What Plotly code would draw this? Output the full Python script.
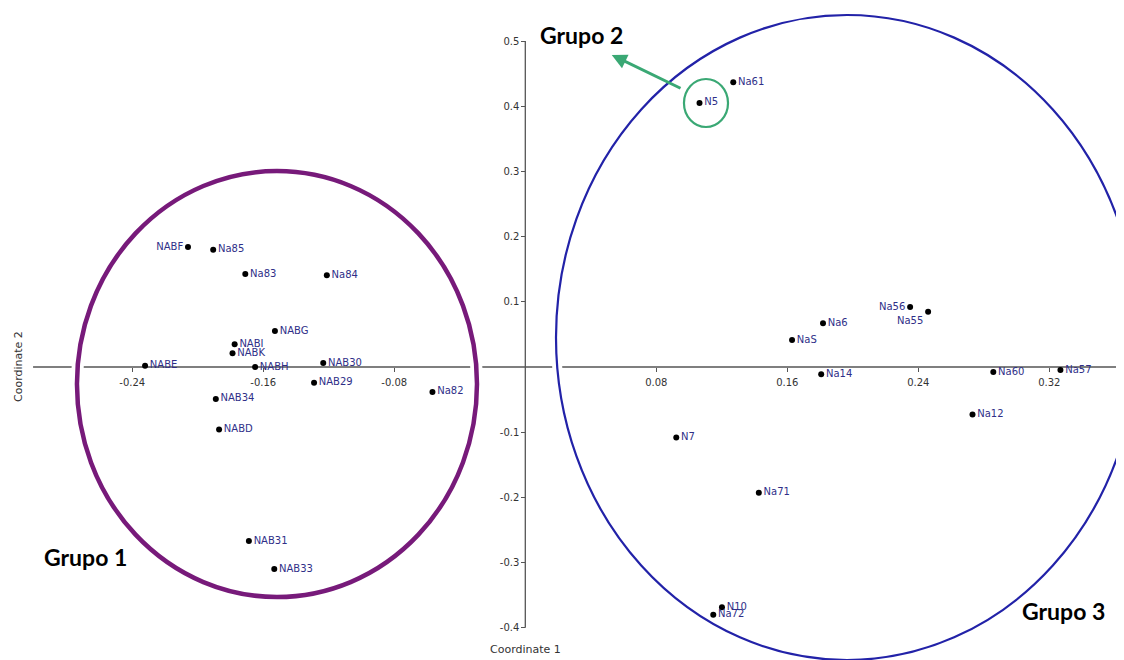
import plotly.graph_objects as go

# ---------------- data ----------------
g1_names = ["NABF", "Na85", "Na83", "Na84", "NABG", "NABI", "NABK", "NABE", "NABH",
            "NAB30", "NAB29", "Na82", "NAB34", "NABD", "NAB31", "NAB33"]
g1_x = [-0.206, -0.1906, -0.171, -0.1212, -0.1529, -0.1775, -0.1788, -0.2322, -0.165,
        -0.1234, -0.129, -0.0567, -0.189, -0.187, -0.1688, -0.1533]
g1_y = [0.184, 0.180, 0.1426, 0.1406, 0.0552, 0.0348, 0.021, 0.002, 0.0,
        0.006, -0.024, -0.0383, -0.049, -0.096, -0.267, -0.310]

g2_names = ["N5"]
g2_x = [0.1064]
g2_y = [0.405]

g3_names = ["Na61", "Na56", "Na55", "Na6", "NaS", "Na14", "Na60", "Na57", "Na12",
            "N7", "Na71", "N10", "Na72"]
g3_x = [0.127, 0.235, 0.246, 0.1818, 0.1629, 0.1807, 0.2858, 0.3268, 0.2731,
        0.0922, 0.1426, 0.1201, 0.1148]
g3_y = [0.4366, 0.092, 0.0848, 0.067, 0.0414, -0.0112, -0.0077, -0.0046, -0.073,
        -0.108, -0.193, -0.3686, -0.380]

x_tickvals = [-0.24, -0.16, -0.08, 0.08, 0.16, 0.24, 0.32]
x_ticktext = ["-0.24", "-0.16", "-0.08", "0.08", "0.16", "0.24", "0.32"]
y_tickvals = [0.5, 0.4, 0.3, 0.2, 0.1, -0.1, -0.2, -0.3, -0.4]
y_ticktext = ["0.5", "0.4", "0.3", "0.2", "0.1", "-0.1", "-0.2", "-0.3", "-0.4"]

group_labels = ["Grupo 1", "Grupo 2", "Grupo 3"]
axis_titles = ["Coordinate 1", "Coordinate 2"]

# ---------------- styling ----------------
# the page body has an 8px margin, so the figure is 8px smaller than the window
W, H = 1116, 652
X_RANGE = [-0.31591, 0.36562]
Y_RANGE = [-0.44939, 0.55061]

LABEL_COLOR = "#2f2f88"
TICK_COLOR = "#333333"
AXIS_LINE = "#555555"
PURPLE = "#771a7a"
BLUE = "#2222a8"
GREEN = "#3aa874"

label_side = {"NABF": "middle left", "Na56": "middle left", "Na55": "bottom left"}


def positions(names):
    return [label_side.get(n, "middle right") for n in names]


fig = go.Figure()
for names, xs, ys in [(g1_names, g1_x, g1_y), (g2_names, g2_x, g2_y), (g3_names, g3_x, g3_y)]:
    fig.add_trace(go.Scatter(
        x=xs, y=ys, mode="markers+text", text=names,
        textposition=positions(names),
        marker=dict(color="black", size=6),
        textfont=dict(family="DejaVu Sans", size=10, color=LABEL_COLOR),
        showlegend=False, hoverinfo="text",
        cliponaxis=False,
    ))

shapes = []
# axis lines
shapes.append(dict(type="line", xref="x", yref="y", x0=-0.3006, x1=X_RANGE[1], y0=0, y1=0,
                   line=dict(color=AXIS_LINE, width=1.3), layer="below"))
shapes.append(dict(type="line", xref="x", yref="y", x0=0, x1=0, y0=-0.4, y1=0.5,
                   line=dict(color=AXIS_LINE, width=1.3), layer="below"))
# circles (white halo + coloured ring)
purple_c = dict(x0=-0.2738, x1=-0.0295, y0=-0.3528, y1=0.3006)
blue_c = dict(x0=0.01875, x1=0.3742, y0=-0.4494, y1=0.5399)
green_c = dict(x0=0.0969, x1=0.1238, y0=0.3681, y1=0.4417)
shapes.append(dict(type="circle", xref="x", yref="y", **purple_c,
                   line=dict(color="white", width=12), layer="below"))
shapes.append(dict(type="circle", xref="x", yref="y", **purple_c,
                   line=dict(color=PURPLE, width=4.5), layer="below"))
shapes.append(dict(type="circle", xref="x", yref="y", **blue_c,
                   line=dict(color="white", width=10), layer="below"))
shapes.append(dict(type="circle", xref="x", yref="y", **blue_c,
                   line=dict(color=BLUE, width=2.2), layer="below"))
shapes.append(dict(type="circle", xref="x", yref="y", **green_c,
                   line=dict(color=GREEN, width=2.2), layer="below"))

annotations = [
    # arrow from Grupo 2 circle
    dict(x=0.0528, y=0.4785, ax=0.0957, ay=0.4264, xref="x", yref="y", axref="x", ayref="y",
         text="", showarrow=True, arrowhead=2, arrowsize=1, arrowwidth=3, arrowcolor=GREEN),
    dict(x=-0.2686, y=-0.2914, xref="x", yref="y", text=f"<b>{group_labels[0]}</b>", showarrow=False,
         font=dict(family="Lato", size=23, color="black")),
    dict(x=0.0346, y=0.509, xref="x", yref="y", text=f"<b>{group_labels[1]}</b>", showarrow=False,
         font=dict(family="Lato", size=23, color="black")),
    dict(x=0.3287, y=-0.3742, xref="x", yref="y", text=f"<b>{group_labels[2]}</b>", showarrow=False,
         font=dict(family="Lato", size=23, color="black")),
    dict(x=0, y=-0.434, xref="x", yref="y", text=axis_titles[0], showarrow=False,
         font=dict(family="DejaVu Sans", size=11, color=TICK_COLOR)),
    dict(x=-0.3098, y=0, xref="x", yref="y", text=axis_titles[1], showarrow=False, textangle=-90,
         font=dict(family="DejaVu Sans", size=11, color=TICK_COLOR)),
]

y0_frac = (0 - Y_RANGE[0]) / (Y_RANGE[1] - Y_RANGE[0])
x0_frac = (0 - X_RANGE[0]) / (X_RANGE[1] - X_RANGE[0])

fig.update_layout(
    width=W, height=H, autosize=False,
    margin=dict(l=0, r=0, t=0, b=0, pad=0),
    paper_bgcolor="white", plot_bgcolor="white",
    shapes=shapes, annotations=annotations,
    xaxis=dict(range=X_RANGE, domain=[0, 1], anchor="free", position=y0_frac,
               showgrid=False, zeroline=False, showline=False,
               tickmode="array", tickvals=x_tickvals, ticktext=x_ticktext,
               ticks="outside", ticklen=4, tickwidth=1, tickcolor=AXIS_LINE,
               ticklabelstandoff=2,
               tickfont=dict(family="DejaVu Sans", size=10, color=TICK_COLOR),
               fixedrange=True),
    yaxis=dict(range=Y_RANGE, domain=[0, 1], anchor="free", position=x0_frac,
               showgrid=False, zeroline=False, showline=False,
               tickmode="array", tickvals=y_tickvals, ticktext=y_ticktext,
               ticks="outside", ticklen=4, tickwidth=1, tickcolor=AXIS_LINE,
               tickfont=dict(family="DejaVu Sans", size=10, color=TICK_COLOR),
               fixedrange=True),
    showlegend=False,
)

fig.write_html("out.html")
